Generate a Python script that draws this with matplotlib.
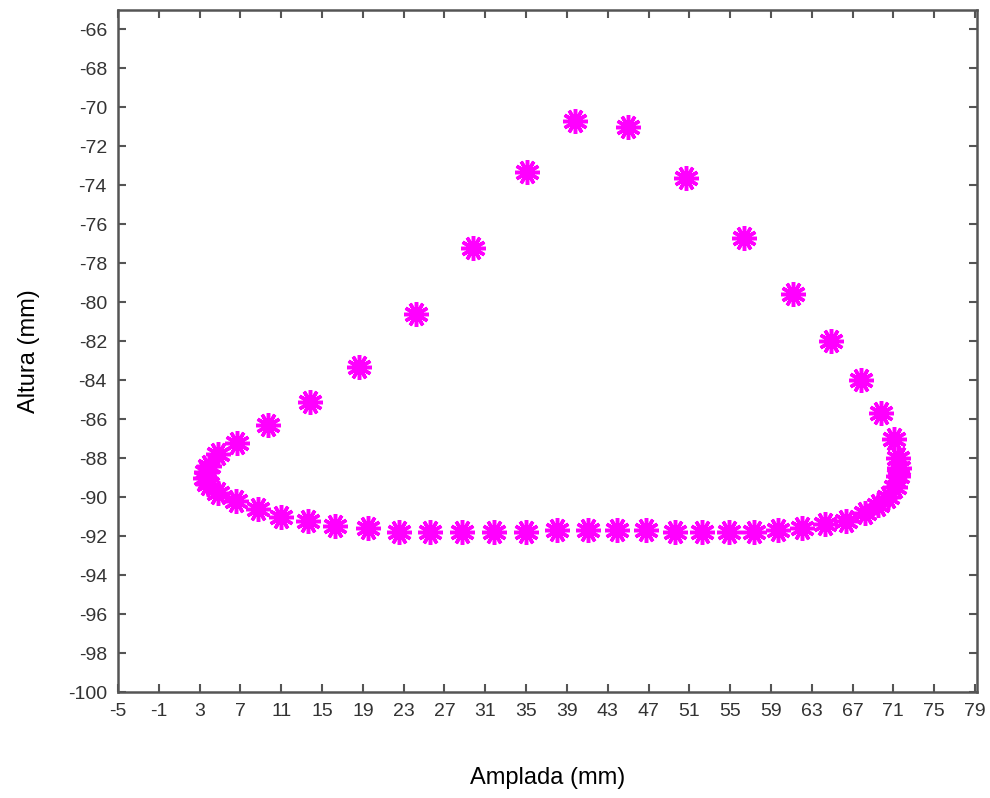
import matplotlib.pyplot as plt
import numpy as np

plt.rcParams['font.family'] = ['Liberation Sans', 'DejaVu Sans']
plt.rcParams['axes.unicode_minus'] = False

# punts mesurats (amplada, altura) en mm
amplada = [39.8, 45.0, 50.7, 56.4, 61.2, 64.9, 67.8, 69.8, 71.1, 71.5, 71.6,
           71.5, 71.2, 70.5, 69.5, 68.2, 66.4, 64.3, 62.0, 59.7, 57.3, 54.9,
           52.2, 49.6, 46.8, 43.9, 41.1, 38.0, 35.0, 31.9, 28.7, 25.6, 22.5,
           19.5, 16.3, 13.6, 11.0, 8.7, 6.6, 4.8, 3.8, 3.5, 3.6, 3.9, 4.8,
           6.7, 9.7, 13.8, 18.6, 24.2, 29.8, 35.1]
altura = [-70.7, -71.0, -73.6, -76.7, -79.6, -82.0, -84.0, -85.7, -87.0, -88.0,
          -88.5, -88.9, -89.5, -90.0, -90.4, -90.8, -91.2, -91.4, -91.6, -91.7,
          -91.8, -91.8, -91.8, -91.8, -91.7, -91.7, -91.7, -91.7, -91.8, -91.8,
          -91.8, -91.8, -91.8, -91.6, -91.5, -91.2, -91.0, -90.6, -90.2, -89.8,
          -89.3, -89.0, -88.7, -88.4, -87.8, -87.2, -86.3, -85.1, -83.3, -80.6,
          -77.2, -73.3]

xticks = np.arange(-5, 80, 4)
yticks = np.arange(-100, -65, 2)

fig = plt.figure(figsize=(9.9, 7.98), dpi=100)
ax = fig.add_axes([0.1192, 0.1328, 0.8677, 0.8547])

ax.plot(amplada, altura, linestyle='none', marker='o', ms=7.5,
        color='#ff00ff', mec='none')
ax.plot(amplada, altura, linestyle='none', marker=(12, 2, 0), ms=18,
        mew=2.5, color='#ff00ff')

ax.set_xlim(-5, 79.2)
ax.set_ylim(-100, -65)
ax.set_xticks(xticks)
ax.set_yticks(yticks)
ax.tick_params(direction='in', length=6, width=1.5, top=True, right=True,
               labelsize=14, labelcolor='#333333', color='#555555', pad=8)
for s in ax.spines.values():
    s.set_linewidth(1.8)
    s.set_color('#555555')

ax.set_xlabel('Amplada (mm)', fontsize=17, labelpad=34)
ax.set_ylabel('Altura (mm)', fontsize=17, labelpad=20)

fig.savefig('out.png')
